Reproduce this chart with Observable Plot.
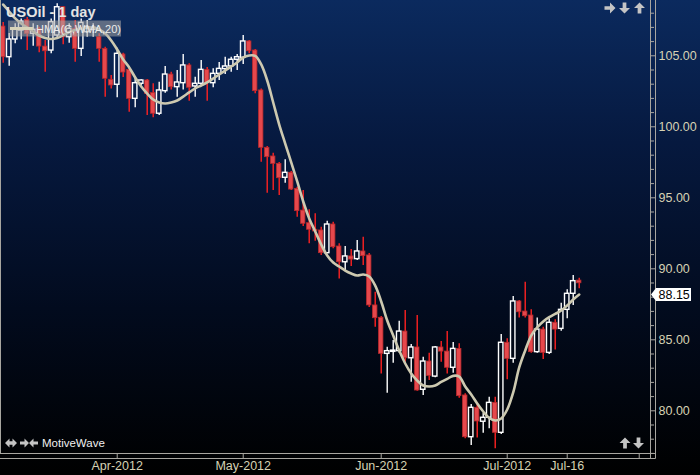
<!DOCTYPE html>
<html><head><meta charset="utf-8">
<script src="https://cdn.jsdelivr.net/npm/d3@7"></script>
<script src="https://cdn.jsdelivr.net/npm/@observablehq/plot@0.6"></script>
<style>
html,body{margin:0;padding:0;}
body{width:700px;height:475px;overflow:hidden;background:linear-gradient(to bottom,#0b2a5e 0%,#06193f 30%,#020b1e 65%,#000000 100%);}
#chart svg{display:block;}
</style></head><body><div id="chart"></div>
<script>
// Daily OHLC for USOil, bar index 0..96 (Mar 6 – Jul 18, 2012)
const open = [107.06,104.90,106.15,106.78,107.53,106.55,106.90,105.65,105.37,106.43,
108.42,106.31,106.90,105.49,106.66,106.83,106.31,105.49,103.31,102.96,
105.09,104.01,101.97,103.03,103.26,102.37,100.92,102.51,103.68,102.79,
103.07,104.32,102.84,103.03,104.01,103.07,103.73,104.06,104.25,104.72,
104.86,106.01,105.37,102.56,98.52,97.91,97.39,96.41,96.76,95.63,
94.10,93.21,92.75,92.70,91.10,93.12,91.57,90.46,90.87,90.68,
91.22,90.94,87.42,86.55,84.01,84.15,84.20,85.58,83.70,84.46,
81.48,83.47,82.41,84.46,84.17,83.03,84.36,81.08,78.14,80.21,
79.23,79.51,80.56,78.45,84.79,83.66,87.70,86.99,86.71,84.13,
85.72,84.08,86.20,85.77,87.11,88.24,89.17];
const high = [107.35,106.57,107.25,107.60,107.70,107.25,107.01,106.08,107.60,108.66,
108.47,107.25,107.49,107.60,107.49,107.25,106.55,105.61,103.61,105.54,
105.18,104.18,103.49,103.31,103.33,103.03,103.14,104.24,103.84,103.97,
105.09,104.44,103.49,104.67,104.18,104.08,104.53,104.90,104.90,105.09,
106.43,106.08,105.44,102.67,98.61,98.14,97.48,97.68,96.85,95.75,
95.51,94.16,93.87,92.93,93.35,93.28,91.76,91.57,91.36,91.99,
92.22,91.08,88.35,86.64,84.48,84.95,86.31,87.06,84.67,86.71,
83.77,84.06,84.53,84.88,85.58,84.81,84.72,81.20,80.44,80.49,
79.83,80.96,80.96,85.37,85.07,88.05,87.77,89.06,87.11,86.54,
85.89,86.48,86.41,87.58,88.52,89.53,89.34];
const low = [104.48,104.27,105.84,106.13,105.37,105.68,105.21,103.84,105.14,106.20,
105.77,105.89,104.55,104.95,106.31,106.30,104.55,102.08,102.67,102.04,
103.47,101.03,101.34,102.91,100.79,100.63,100.79,102.37,102.60,102.08,
102.60,101.80,102.08,102.84,101.80,102.75,103.26,103.68,103.84,103.96,
104.39,105.14,102.32,97.51,95.32,95.51,95.16,96.03,95.51,93.63,
92.98,91.76,91.94,90.93,91.06,91.41,89.29,89.88,90.16,90.58,
90.23,87.27,85.89,82.60,81.24,83.35,84.06,83.42,82.01,81.38,
81.08,82.13,82.32,83.42,82.60,82.65,80.89,78.03,77.56,78.09,
78.42,78.73,77.32,78.33,82.18,83.35,86.54,86.54,84.06,84.06,
83.61,83.97,84.29,85.60,86.48,87.42,88.59];
const close = [104.90,106.15,106.83,107.41,106.55,106.83,105.65,105.32,107.37,108.42,
106.31,106.90,105.49,107.32,107.01,106.97,105.49,103.38,102.91,105.14,
103.82,101.97,103.07,103.26,102.32,100.92,102.56,103.68,102.79,103.12,
104.32,102.75,103.03,104.01,103.07,103.73,104.08,104.25,104.72,104.90,
106.01,105.32,102.51,98.52,97.86,97.39,96.38,96.76,95.58,94.06,
93.17,92.75,92.63,91.10,93.12,91.52,90.46,90.87,90.65,91.22,
90.89,87.42,86.52,84.01,84.20,84.24,85.58,83.70,84.46,81.43,
83.47,82.46,84.46,84.17,83.03,84.36,81.03,78.14,80.21,79.25,
79.51,80.56,78.45,84.79,83.66,87.70,86.94,86.66,84.13,85.72,
84.08,86.20,85.72,87.11,88.24,89.13,88.98];
// HMA(C,WMA,20) study values per bar
const hma = [108.61,108.12,107.63,107.27,106.99,106.71,106.43,106.25,106.18,106.25,
106.46,106.68,106.82,106.92,106.97,106.99,106.85,106.57,106.08,105.44,
104.74,104.18,103.47,102.84,102.34,101.92,101.71,101.64,101.71,101.85,
102.13,102.42,102.70,102.91,103.12,103.40,103.68,103.96,104.24,104.53,
104.88,105.02,104.99,104.39,103.26,101.71,100.16,98.82,97.49,96.15,
94.74,93.55,92.63,91.71,90.94,90.44,90.16,89.88,89.67,89.53,
89.60,89.46,88.82,87.70,86.36,85.30,84.25,83.33,82.63,82.13,
81.78,81.71,81.78,82.03,82.25,82.46,82.41,81.71,81.15,80.51,
79.95,79.49,79.32,79.46,80.09,81.29,83.05,84.25,85.30,85.87,
86.29,86.59,86.82,87.06,87.42,87.84,88.19];
const lastHma = 88.15;
const priceTicks = [80,85,90,95,100,105];
const priceMinorTicks = [77,78,79,81,82,83,84,86,87,88,89,91,92,93,94,96,97,98,99,101,102,103,104,106,107,108];
const dateTickIndex = [19,40,63,84,94];
const dateTickLabels = ["Apr-2012","May-2012","Jun-2012","Jul-2012","Jul-16"];
const dateTickUnlabeled = [106];
const titleText = "USOil - 1 day";
const studyText = "HMA(C,WMA,20)";
const brandText = "MotiveWave";

const bars = open.map((o,i)=>({i,o,h:high[i],l:low[i],c:close[i],up:close[i]>=o,top:Math.max(o,close[i]),bot:Math.min(o,close[i])}));
const upBars = bars.filter(d=>d.up), downBars = bars.filter(d=>!d.up);
const maPts = hma.map((v,i)=>({i,v}));
const hw = 0.37;
const axisCol = "#d6d2b4";
const tickCol = "#a8a6a0";
const FONT = "'Liberation Sans', Arial, sans-serif";
const blank = () => "";

const chart = Plot.plot({
  width:700, height:475, marginLeft:0, marginRight:50, marginTop:0, marginBottom:22,
  style:{background:"transparent", color:axisCol, fontFamily:FONT, fontSize:"12.5px", overflow:"visible"},
  x:{type:"linear", domain:[-0.45,107.88], label:null},
  y:{domain:[76.993,108.894], label:null},
  marks:[
    Plot.ruleX(downBars,{x:"i", y1:"l", y2:"h", stroke:"#ff2222", strokeWidth:1.4}),
    Plot.ruleX(upBars,{x:"i", y1:"top", y2:"h", stroke:"#ffffff", strokeWidth:1.4}),
    Plot.ruleX(upBars,{x:"i", y1:"l", y2:"bot", stroke:"#ffffff", strokeWidth:1.4}),
    Plot.rect(downBars,{x1:d=>d.i-hw, x2:d=>d.i+hw, y1:"o", y2:"c", fill:"#e6484c", stroke:"#b8292d", strokeWidth:0.8}),
    Plot.rect(upBars,{x1:d=>d.i-hw, x2:d=>d.i+hw, y1:"o", y2:"c", fill:"none", stroke:"#ffffff", strokeWidth:1.4}),
    Plot.line(maPts,{x:"i", y:"v", stroke:"#cdc9b0", strokeWidth:2.6, curve:"catmull-rom"}),
    Plot.axisY({anchor:"right", ticks:priceMinorTicks, tickSize:3, tickFormat:blank, label:null, stroke:tickCol}),
    Plot.axisY({anchor:"right", ticks:priceTicks, tickSize:5, tickPadding:3, tickFormat:d=>d.toFixed(2), label:null, stroke:tickCol, fill:axisCol}),
    Plot.axisX({anchor:"bottom", ticks:dateTickIndex, tickSize:5, tickPadding:3, tickFormat:d=>dateTickLabels[dateTickIndex.indexOf(d)], label:null, stroke:tickCol, fill:axisCol}),
    Plot.axisX({anchor:"bottom", ticks:dateTickUnlabeled, tickSize:5, tickFormat:blank, label:null, stroke:tickCol})
  ]
});
document.getElementById("chart").appendChild(chart);

const svg = d3.select(chart);
const deco = svg.append("g").attr("text-anchor","start");
// frame / axis strips
[[0.5,0,0.5,453],[650.5,0,650.5,458.5],[655.5,0,655.5,458.5],[0,453.5,655.5,453.5],[0,458.5,655.5,458.5]].forEach(([x1,y1,x2,y2])=>{
  deco.append("line").attr("x1",x1).attr("y1",y1).attr("x2",x2).attr("y2",y2).attr("stroke",tickCol).attr("stroke-width",1);
});
// title
deco.append("text").attr("x",6).attr("y",16.5).attr("text-anchor","start").text(titleText)
  .attr("font-family",FONT).attr("font-size",14.5).attr("font-weight","bold").attr("fill","#e4e4e4");
// study label
deco.append("rect").attr("x",8).attr("y",20.5).attr("width",113).attr("height",16).attr("fill","rgba(165,165,165,0.55)");
deco.append("line").attr("x1",10).attr("x2",33).attr("y1",28.5).attr("y2",28.5).attr("stroke","#d8d4ba").attr("stroke-width",3);
deco.append("text").attr("x",36).attr("y",33).attr("text-anchor","start").text(studyText)
  .attr("font-family",FONT).attr("font-size",11).attr("fill","#ececec");
// price tag
const ty = chart.scale("y").apply(lastHma);
deco.append("path").attr("d",`M651,${ty} L656,${ty-6.5} L691,${ty-6.5} L691,${ty+6.5} L656,${ty+6.5} Z`).attr("fill","#ffffff");
deco.append("text").attr("x",658.5).attr("y",ty+4.5).attr("text-anchor","start").text(lastHma.toFixed(2))
  .attr("font-family",FONT).attr("font-size",12.5).attr("fill","#000");
// arrow icons
function arrow(cx,cy,angle,s,col){
  const a=s/2, t=s*0.17;
  deco.append("path").attr("d",`M${-a},${-t} L0,${-t} L0,${-a} L${a},0 L0,${a} L0,${t} L${-a},${t} Z`)
    .attr("transform",`translate(${cx},${cy}) rotate(${angle})`).attr("fill",col||"#c4c4c4");
}
arrow(610,8,0,11); arrow(624.5,8,90,11); arrow(639.5,8,-90,11);
arrow(625,443,-90,11); arrow(638.5,443,90,11);
deco.append("path").attr("d","M5,443 L9.5,438.5 L9.5,441.2 L12.5,441.2 L12.5,438.5 L17,443 L12.5,447.5 L12.5,444.8 L9.5,444.8 L9.5,447.5 Z").attr("fill","#c4c4c4");
arrow(24.5,443,0,9); arrow(33.5,443,180,9);
deco.append("text").attr("x",42).attr("y",447).attr("text-anchor","start").text(brandText)
  .attr("font-family",FONT).attr("font-size",11.5).attr("fill","#f0f0f0");
</script>
</body></html>
